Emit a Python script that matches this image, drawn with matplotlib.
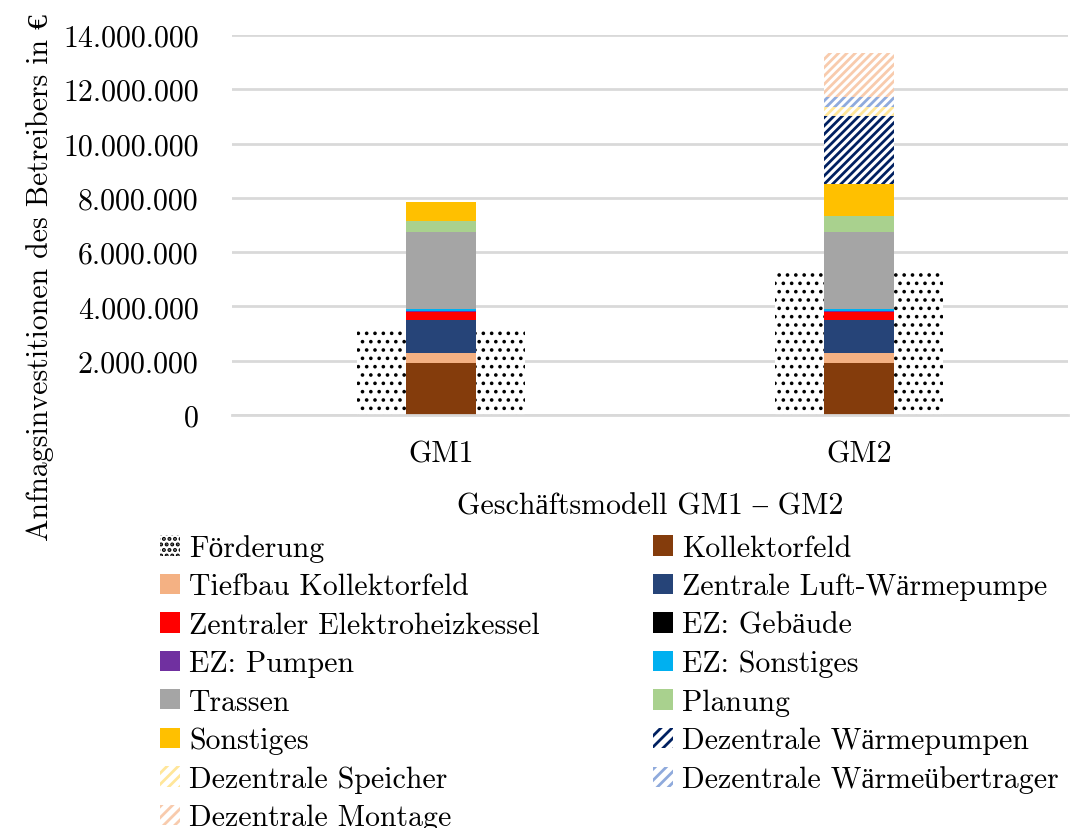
import matplotlib
matplotlib.use("Agg")
import matplotlib.pyplot as plt
from matplotlib.patches import Patch
from matplotlib.ticker import FuncFormatter

plt.rcParams['font.family'] = ['cmr10', 'Liberation Serif']
plt.rcParams['axes.formatter.use_mathtext'] = True
plt.rcParams['hatch.linewidth'] = 2.0

FS = 21.5

categories = ["GM1", "GM2"]

foerderung = [3.14e6, 5.33e6]

series_names = [
    "Kollektorfeld",
    "Tiefbau Kollektorfeld",
    "Zentrale Luft-Wärmepumpe",
    "Zentraler Elektroheizkessel",
    "EZ: Gebäude",
    "EZ: Pumpen",
    "EZ: Sonstiges",
    "Trassen",
    "Planung",
    "Sonstiges",
    "Dezentrale Wärmepumpen",
    "Dezentrale Speicher",
    "Dezentrale Wärmeübertrager",
    "Dezentrale Montage",
]
series_values = [
    [1.90e6, 1.90e6],
    [0.38e6, 0.38e6],
    [1.23e6, 1.23e6],
    [0.27e6, 0.27e6],
    [0.03e6, 0.03e6],
    [0.04e6, 0.04e6],
    [0.05e6, 0.05e6],
    [2.86e6, 2.86e6],
    [0.40e6, 0.58e6],
    [0.67e6, 1.17e6],
    [0.0, 2.49e6],
    [0.0, 0.33e6],
    [0.0, 0.40e6],
    [0.0, 1.62e6],
]
y_ticks = [0, 2e6, 4e6, 6e6, 8e6, 10e6, 12e6, 14e6]

# (face colour, hatch colour, hatch)
styles = [
    ("#843C0C", None, None),
    ("#F4B183", None, None),
    ("#264478", None, None),
    ("#FF0000", None, None),
    ("#000000", None, None),
    ("#7030A0", None, None),
    ("#00B0F0", None, None),
    ("#A5A5A5", None, None),
    ("#A9D18E", None, None),
    ("#FFC000", None, None),
    ("white", "#002060", "////"),
    ("white", "#FFE699", "////"),
    ("white", "#8FAADC", "////"),
    ("white", "#F8CBAD", "////"),
]

fig = plt.figure(figsize=(10.70, 8.29), dpi=100)
W, H = 1070, 829
ax = fig.add_axes([232 / W, 1 - 416 / H, (1068 - 232) / W, (416 - 36) / H])

x = list(range(len(categories)))

# Funding shown as a wide dotted bar behind the cost stack
with plt.rc_context({'hatch.linewidth': 1.4}):
    ax.bar(x, foerderung, width=0.4, color="white", edgecolor="black",
           hatch="..", linewidth=0, zorder=1)
    handles = [Patch(facecolor="white", edgecolor="black", hatch="...",
                     linewidth=0, label="Förderung")]

bottoms = [0.0] * len(categories)
for name, vals, (fc, hc, hatch) in zip(series_names, series_values, styles):
    if hatch:
        ax.bar(x, vals, width=0.167, bottom=bottoms, color=fc,
               edgecolor=hc, hatch=hatch, linewidth=0, zorder=2)
        handles.append(Patch(facecolor=fc, edgecolor=hc, hatch="///",
                             linewidth=0, label=name))
    else:
        ax.bar(x, vals, width=0.167, bottom=bottoms, color=fc,
               linewidth=0, zorder=2)
        handles.append(Patch(facecolor=fc, label=name))
    bottoms = [b + v for b, v in zip(bottoms, vals)]

ax.set_xlim(-0.5, 1.5)
ax.set_ylim(0, 14e6)
ax.set_yticks(y_ticks)
ax.yaxis.set_major_formatter(FuncFormatter(lambda v, p: f"{int(v):,}".replace(",", ".")))
ax.set_xticks(x)
ax.set_xticklabels(categories)
ax.tick_params(axis="both", length=0, labelsize=FS, colors="black")
ax.tick_params(axis="y", pad=24)
ax.tick_params(axis="x", pad=18)
ax.grid(axis="y", color="#D9D9D9", linewidth=2, zorder=0)
ax.set_axisbelow(True)
for s in ["top", "right", "left"]:
    ax.spines[s].set_visible(False)
ax.spines["bottom"].set_color("#D9D9D9")
ax.spines["bottom"].set_linewidth(2)

ax.set_xlabel("Geschäftsmodell GM1 – GM2", fontsize=FS, labelpad=18, color="black")
fig.text(40 / W, 1 - 278 / H, "Anfnagsinvestitionen des Betreibers in €",
         rotation=90, ha="center", va="center", fontsize=FS, color="black")

# Legend filled row by row in two columns
order = list(range(0, len(handles), 2)) + list(range(1, len(handles), 2))
leg = fig.legend([handles[i] for i in order], [handles[i].get_label() for i in order],
                 ncol=2, loc="upper left", bbox_to_anchor=(160 / W, 1 - 535 / H),
                 frameon=False, fontsize=FS, handlelength=0.67, handleheight=0.67,
                 handletextpad=0.3, columnspacing=3.8, labelspacing=0.37,
                 borderpad=0, borderaxespad=0)

fig.savefig("out.png", dpi=100)
